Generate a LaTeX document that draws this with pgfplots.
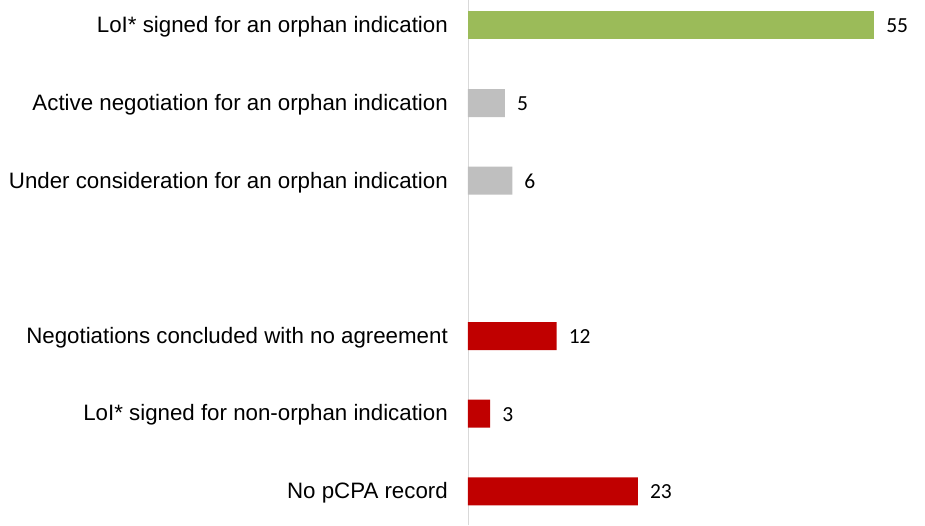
\documentclass[border=0pt]{standalone}
\usepackage{pgfplots}
\pgfplotsset{compat=1.18}
\usepackage{fontspec}
\setmainfont{Liberation Sans}
\newfontfamily\numfont{Carlito}
\definecolor{barGreen}{RGB}{155,187,89}
\definecolor{barGray}{RGB}{191,191,191}
\definecolor{barRed}{RGB}{192,0,0}
\definecolor{axGray}{RGB}{217,217,217}
\begin{document}
\begin{tikzpicture}
\begin{axis}[
    name=ax,
    scale only axis,
    width=457pt, height=525pt,
    xmin=0, xmax=61.9,
    ymin=-0.438, ymax=6.322,
    axis x line=none,
    axis y line*=left,
    y axis line style={draw=axGray, line width=0.8pt, -},
    ytick={0,1,2,4,5,6},
    yticklabels={No pCPA record, LoI* signed for non-orphan indication, Negotiations concluded with no agreement, Under consideration for an orphan indication, Active negotiation for an orphan indication, LoI* signed for an orphan indication},
    major tick length=0pt,
    ytick style={draw=none},
    yticklabel style={font=\fontsize{22.3}{25}\selectfont, inner sep=0pt, anchor=east, xshift=-20pt, yshift=-1.5pt},
    xbar, bar width=28pt, bar shift=0pt,
    nodes near coords={\numfont\pgfmathprintnumber[assume math mode=true]{\pgfplotspointmeta}},
    every node near coord/.append style={font=\numfont\fontsize{21.5}{24}\selectfont, inner sep=0pt, anchor=west, xshift=12pt, yshift=-0.5pt, text=black},
    clip=false,
]
\addplot[draw=none, fill=barGreen] coordinates {(55,6)};
\addplot[draw=none, fill=barGray] coordinates {(5,5) (6,4)};
\addplot[draw=none, fill=barRed] coordinates {(12,2) (3,1) (23,0)};
\end{axis}
\path ([xshift=-468pt]ax.south west) rectangle (ax.north east);
\end{tikzpicture}
\end{document}
